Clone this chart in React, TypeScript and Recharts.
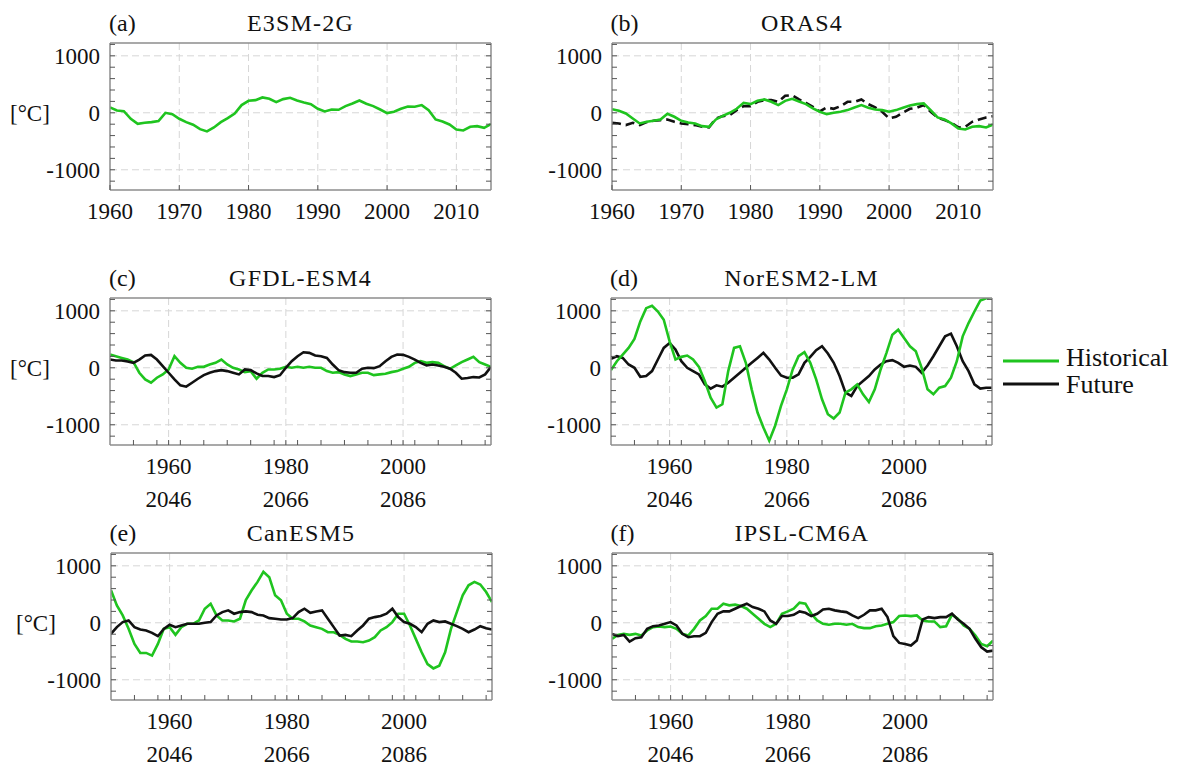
import React from 'react';
import { LineChart, Line, XAxis, YAxis, CartesianGrid } from 'recharts';

const FONT = '"Liberation Serif", "Times New Roman", serif';
const GREEN = '#1fc41f';
const BLACK = '#111111';
const FRAME = '#8c8c8c';
const TICK = '#555555';

// tick values / labels
const decadeTicks = [1960, 1970, 1980, 1990, 2000, 2010];
const histYearLabels = [1960, 1980, 2000];
const futureYearLabels = [2046, 2066, 2086];
const minorYearTicks = [1954, 1958, 1962, 1966, 1970, 1974, 1978, 1982, 1986, 1990, 1994, 1998, 2002, 2006, 2010, 2014];
const yTicks = [-1200, -1000, -800, -600, -400, -200, 0, 200, 400, 600, 800, 1000, 1200];
const yLabelTicks = [-1000, 0, 1000];
const yDomain = [-1355, 1225];

// (a) E3SM-2G, 1960-2015
const e3smHist = [94, 41, 29, -105, -193, -175, -164, -146, 0, -23, -105, -164, -210, -287, -327, -257, -164, -94, -12, 135, 210, 222, 269, 246, 187, 240, 263, 216, 181, 152, 70, 23, 58, 53, 117, 164, 216, 158, 117, 58, -6, 18, 70, 111, 105, 135, 47, -117, -152, -205, -292, -310, -246, -234, -263, -199];

// (b) ORAS4, 1960-2015
const orasHist = [64, 35, -12, -99, -187, -158, -140, -117, -18, -70, -140, -170, -187, -234, -246, -117, -53, 0, 70, 175, 152, 210, 234, 193, 135, 210, 246, 199, 152, 76, 18, -23, 0, 18, 47, 94, 135, 88, 58, 47, 18, 47, 88, 129, 152, 164, 47, -82, -117, -187, -275, -292, -246, -234, -257, -205];
const orasRef = [-175, -187, -216, -175, -216, -164, -140, -129, -117, -158, -187, -199, -216, -246, -257, -99, -58, -41, 47, 117, 117, 193, 222, 222, 193, 298, 310, 234, 175, 105, 23, 94, 70, 117, 193, 193, 234, 152, 94, 18, -99, -70, 0, 70, 88, 135, 18, -82, -129, -175, -257, -246, -158, -117, -82, -60];

// (c)-(f), historical 1950-2015, future shifted by 86 years
const gfdlHist = [233, 203, 174, 145, 99, -87, -203, -262, -174, -116, -29, 203, 87, 0, -17, 17, 17, 58, 87, 145, 58, 0, -29, -76, -58, -192, -87, -29, -29, -17, 17, 0, 17, 0, 17, 0, 0, -58, -87, -76, -116, -145, -116, -87, -87, -128, -116, -105, -76, -58, -17, 17, 87, 116, 87, 99, 87, 29, -17, 41, 99, 145, 192, 99, 58, 17];
const gfdlFut = [145, 128, 128, 110, 87, 145, 215, 227, 145, 29, -87, -203, -308, -331, -262, -192, -128, -87, -58, -41, -58, -87, -116, -29, -41, -99, -145, -145, -163, -130, 0, 116, 203, 273, 262, 215, 203, 174, 58, -41, -76, -87, -87, -17, 0, -6, 29, 116, 192, 233, 227, 192, 145, 87, 41, 58, 41, 17, -17, -87, -192, -180, -163, -169, -116, 17];

const norHist = [-41, 116, 233, 349, 506, 814, 1047, 1088, 988, 843, 465, 145, 192, 215, 145, 17, -233, -523, -698, -640, -58, 349, 378, 87, -378, -785, -1047, -1279, -1017, -669, -378, -29, 203, 273, 87, -203, -552, -814, -890, -785, -436, -378, -291, -465, -599, -378, -29, 262, 581, 669, 523, 378, 291, 0, -378, -465, -349, -320, -174, 116, 552, 785, 988, 1180, 1221, 1250];
const norFut = [157, 203, 174, 58, 0, -157, -145, -58, 145, 349, 436, 320, 116, 0, -58, -116, -291, -366, -308, -331, -262, -174, -87, 0, 87, 174, 262, 145, 0, -134, -174, -174, -116, 87, 192, 308, 378, 250, 87, -145, -436, -494, -320, -233, -145, -29, 58, 116, 134, 87, 17, 41, 17, -87, 41, 203, 378, 552, 599, 378, 116, -58, -291, -366, -349, -349];

const canHist = [571, 306, 129, -106, -371, -529, -529, -576, -371, -106, -76, -212, -76, -18, -18, 41, 247, 335, 129, 41, 41, 24, 71, 400, 570, 718, 894, 800, 482, 394, 159, 71, 71, 24, -47, -76, -106, -165, -165, -212, -282, -329, -329, -341, -312, -253, -135, -76, 12, 159, 159, -47, -282, -518, -724, -800, -753, -518, -106, 188, 482, 659, 718, 671, 541, 365];
const canFut = [-194, -76, 12, 41, -76, -118, -135, -176, -235, -106, -35, -76, -47, -18, -18, -18, 0, 12, 129, 188, 218, 159, 188, 200, 188, 141, 129, 82, 71, 59, 59, 82, 188, 247, 176, 200, 218, 71, -76, -224, -212, -235, -135, -47, 71, 100, 118, 159, 247, 100, 12, -18, -76, -165, -18, 41, 12, 24, -18, -59, -106, -165, -118, -59, -94, -118];

const ipslHist = [-282, -212, -194, -212, -194, -224, -135, -76, -65, -76, -65, -106, -194, -224, -106, 41, 118, 247, 247, 335, 306, 318, 294, 247, 159, 71, -18, -76, -18, 159, 200, 247, 353, 335, 159, 41, -18, -35, -18, -18, -35, -18, -76, -94, -94, -59, -47, -18, 12, 118, 129, 118, 129, 41, 24, 24, -76, -60, 141, 71, -47, -106, -224, -371, -412, -312];
const ipslFut = [-194, -235, -212, -329, -271, -253, -106, -59, -47, -18, 12, -47, -194, -253, -235, -235, -176, 12, 159, 200, 200, 247, 294, 335, 276, 247, 200, 41, -18, 118, 118, 141, 200, 176, 118, 159, 235, 247, 218, 200, 188, 129, 82, 141, 218, 218, 247, 100, -235, -353, -371, -400, -312, 59, 100, 82, 100, 100, 159, 59, -18, -106, -282, -429, -506, -488];

type Series = { key: string; values: number[]; color: string; dash?: string };

type PanelProps = {
  left: number;
  top: number;
  start: number;
  end: number;
  xTicks: number[];
  labels: number[];
  labels2?: number[];
  series: Series[];
};

const PW = 381;
const PH = 147;
const ML = 100;
const MT = 20;
const MR = 15;
const MB = 75;

const txt = { fontFamily: FONT };

function Panel({ left, top, start, end, xTicks, labels, labels2, series }: PanelProps) {
  const rows = series[0].values.map((_, i) => {
    const r: Record<string, number> = { year: start + i };
    series.forEach((s) => (r[s.key] = s.values[i]));
    return r;
  });

  const leftTick = (p: any) => {
    const v = p.payload.value;
    return (
      <g>
        <line x1={p.x} y1={p.y} x2={p.x + 5} y2={p.y} stroke={TICK} />
        {yLabelTicks.includes(v) && (
          <text x={p.x - 10} y={p.y} dy="0.35em" textAnchor="end" fontSize={23} style={txt} fill="#111">
            {v}
          </text>
        )}
      </g>
    );
  };
  const rightTick = (p: any) => <line x1={p.x} y1={p.y} x2={p.x - 5} y2={p.y} stroke={TICK} />;
  const topTick = (p: any) => <line x1={p.x} y1={p.y} x2={p.x} y2={p.y + 5} stroke={TICK} />;
  const bottomTick = (p: any) => {
    const v = p.payload.value;
    const idx = labels.indexOf(v);
    return (
      <g>
        <line x1={p.x} y1={p.y} x2={p.x} y2={p.y - 5} stroke={TICK} />
        {idx >= 0 && (
          <text x={p.x} y={p.y + 29} textAnchor="middle" fontSize={23} style={txt} fill="#111">
            {v}
          </text>
        )}
        {idx >= 0 && labels2 && (
          <text x={p.x} y={p.y + 62} textAnchor="middle" fontSize={23} style={txt} fill="#111">
            {labels2[idx]}
          </text>
        )}
      </g>
    );
  };

  // axes get 1px of size so recharts still draws them; margins compensate
  return (
    <div style={{ position: 'absolute', left: left - ML, top: top - MT }}>
      <LineChart width={ML + PW + MR} height={MT + PH + MB} data={rows} margin={{ top: MT - 1, right: MR - 1, bottom: MB - 1, left: ML - 1 }}>
        <CartesianGrid
          stroke="#d6d6d6"
          strokeDasharray="7 4"
          horizontalValues={yLabelTicks}
          verticalValues={labels.filter((v) => v > start && v < end)}
        />
        <XAxis
          dataKey="year"
          type="number"
          domain={[start, end]}
          ticks={xTicks}
          interval={0}
          allowDataOverflow
          height={1}
          tickSize={0}
          tickMargin={0}
          tickLine={false}
          axisLine={{ stroke: FRAME, strokeWidth: 1.5 }}
          tick={bottomTick}
        />
        <XAxis
          xAxisId="t"
          orientation="top"
          type="number"
          domain={[start, end]}
          ticks={xTicks}
          interval={0}
          allowDataOverflow
          height={1}
          tickSize={0}
          tickMargin={0}
          tickLine={false}
          axisLine={{ stroke: FRAME, strokeWidth: 1.5 }}
          tick={topTick}
        />
        <YAxis
          type="number"
          domain={yDomain}
          ticks={yTicks}
          interval={0}
          allowDataOverflow
          width={1}
          tickSize={0}
          tickMargin={0}
          tickLine={false}
          axisLine={{ stroke: FRAME, strokeWidth: 1.5 }}
          tick={leftTick}
        />
        <YAxis
          yAxisId="r"
          orientation="right"
          type="number"
          domain={yDomain}
          ticks={yTicks}
          interval={0}
          allowDataOverflow
          width={1}
          tickSize={0}
          tickMargin={0}
          tickLine={false}
          axisLine={{ stroke: FRAME, strokeWidth: 1.5 }}
          tick={rightTick}
        />
        {series.map((s) => (
          <Line
            key={s.key}
            dataKey={s.key}
            type="linear"
            stroke={s.color}
            strokeWidth={2.6}
            strokeDasharray={s.dash}
            dot={false}
            activeDot={false}
            isAnimationActive={false}
          />
        ))}
      </LineChart>
    </div>
  );
}

const panels = [
  { id: 'a', title: 'E3SM-2G', left: 110, top: 43, unitX: 10, dual: false, series: [{ key: 'hist', values: e3smHist, color: GREEN }] },
  {
    id: 'b', title: 'ORAS4', left: 611.5, top: 43, unitX: 0, dual: false,
    series: [
      { key: 'ref', values: orasRef, color: BLACK, dash: '9 5' },
      { key: 'hist', values: orasHist, color: GREEN },
    ],
  },
  { id: 'c', title: 'GFDL-ESM4', left: 110, top: 298, unitX: 10, dual: true, series: [{ key: 'hist', values: gfdlHist, color: GREEN }, { key: 'fut', values: gfdlFut, color: BLACK }] },
  { id: 'd', title: 'NorESM2-LM', left: 611, top: 298, unitX: 0, dual: true, series: [{ key: 'fut', values: norFut, color: BLACK }, { key: 'hist', values: norHist, color: GREEN }] },
  { id: 'e', title: 'CanESM5', left: 110.5, top: 553, unitX: 16, dual: true, series: [{ key: 'hist', values: canHist, color: GREEN }, { key: 'fut', values: canFut, color: BLACK }] },
  { id: 'f', title: 'IPSL-CM6A', left: 611.5, top: 553, unitX: 0, dual: true, series: [{ key: 'hist', values: ipslHist, color: GREEN }, { key: 'fut', values: ipslFut, color: BLACK }] },
];

export default function App() {
  return (
    <div style={{ position: 'absolute', left: 0, top: 0, width: 1178, height: 767, overflow: 'hidden', background: '#fff', fontFamily: FONT }}>
      <svg width={1178} height={767} style={{ position: 'absolute', left: 0, top: 0 }}>
        {panels.map((p) => (
          <g key={p.id} style={txt} fill="#111">
            <text x={p.left - 1} y={p.top - 12} fontSize={24}>({p.id})</text>
            <text x={p.left + PW / 2} y={p.top - 12} fontSize={24} textAnchor="middle" letterSpacing={1.2}>
              {p.title}
            </text>
            {p.unitX > 0 && (
              <text x={p.unitX} y={p.top + (PH * 1225) / 2580} dy="0.35em" fontSize={23}>
                [°C]
              </text>
            )}
          </g>
        ))}
        <g style={txt} fill="#111" fontSize={26}>
          <line x1={1003} y1={361} x2={1059} y2={361} stroke={GREEN} strokeWidth={3} />
          <text x={1066} y={366}>Historical</text>
          <line x1={1003} y1={384} x2={1059} y2={384} stroke={BLACK} strokeWidth={3} />
          <text x={1066} y={393}>Future</text>
        </g>
      </svg>
      {panels.map((p) =>
        p.dual ? (
          <Panel key={p.id} left={p.left} top={p.top} start={1950} end={2015} xTicks={[...minorYearTicks, ...histYearLabels].sort((a, b) => a - b)} labels={histYearLabels} labels2={futureYearLabels} series={p.series} />
        ) : (
          <Panel key={p.id} left={p.left} top={p.top} start={1960} end={2015} xTicks={decadeTicks} labels={decadeTicks} series={p.series} />
        )
      )}
    </div>
  );
}
